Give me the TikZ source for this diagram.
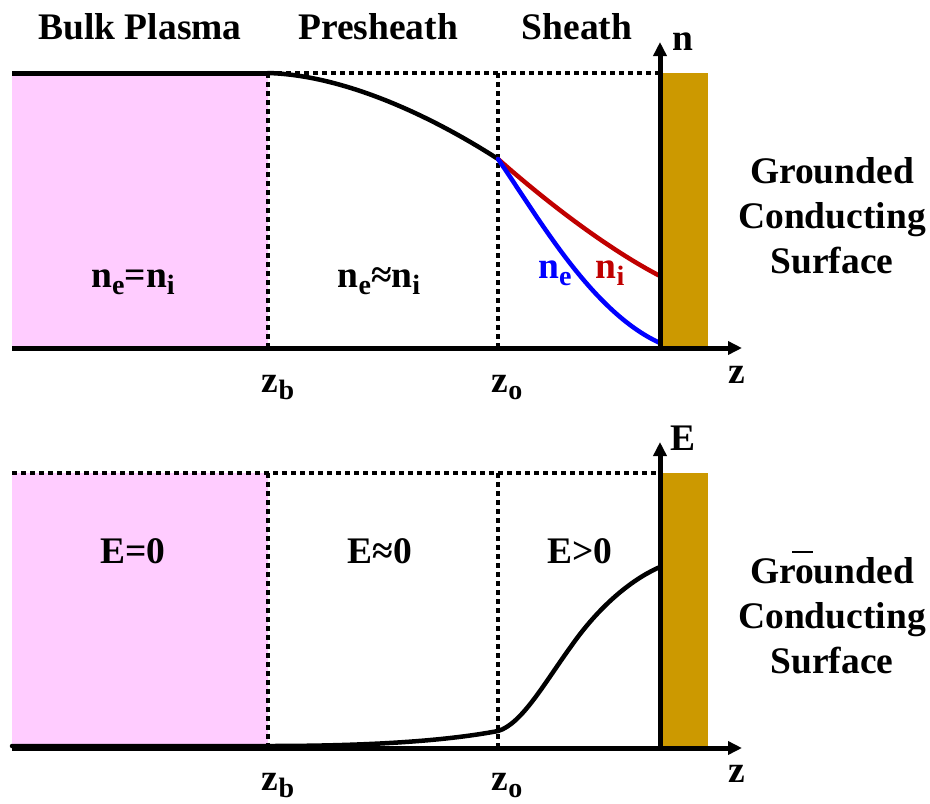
\documentclass[tikz,border=0pt]{standalone}
\usepackage{fontspec}
\setmainfont{Liberation Serif}
\usetikzlibrary{arrows.meta}
\definecolor{bulkpink}{HTML}{FFCCFF}
\definecolor{wallgold}{HTML}{CC9900}
\definecolor{ionred}{HTML}{C00000}
\definecolor{elblue}{HTML}{0000FF}
\newcommand\lsub[1]{\raisebox{-7pt}{\fontsize{28}{28}\selectfont #1}}
\tikzset{
  lbl/.style={inner sep=0pt, anchor=base, font=\fontsize{37.5}{45}\selectfont\bfseries},
  solidline/.style={line width=5pt},
  dotline/.style={line width=4.5pt, dash pattern=on 5pt off 4pt},
  curveline/.style={line width=4.5pt, line cap=round},
  axisline/.style={line width=5pt, -{Triangle[length=14pt,width=13pt]}},
  wall/.style={fill=wallgold},
  bulk/.style={fill=bulkpink},
}
\begin{document}
\begin{tikzpicture}[x=1pt,y=-1pt]
\useasboundingbox (0,0) rectangle (930,804);
% ---------------- top panel ----------------
\coordinate (TL) at (12,73);
\coordinate (TB) at (268,73);
\coordinate (TBb) at (268,348);
\coordinate (TO) at (498,159);
\coordinate (TOt) at (498,73);
\coordinate (TOb) at (498,348);
\coordinate (TW) at (660,73);
\coordinate (TOrig) at (660,348);
\coordinate (TAx0) at (12,348);
\coordinate (TAxZ) at (742,348);
\coordinate (TAxN) at (660,42);
\coordinate (TRi) at (660,276);
\coordinate (TRe) at (660,343);
\fill[bulk] (12,73) rectangle (268,348);
\fill[wall] (662,73) rectangle (708,348);
\draw[solidline] (TL) -- (TB);
\draw[dotline] (TB) -- (TW);
\draw[dotline] (TB) -- (TBb);
\draw[dotline] (TOt) -- (TOb);
\draw[curveline] (TB) .. controls (340,75) and (425,112) .. (TO);
\draw[curveline, ionred] (TO) .. controls (550,205) and (610,250) .. (TRi);
\draw[curveline, elblue] (TO) .. controls (540,220) and (592,312) .. (TRe);
\draw[axisline] (TAx0) -- (TAxZ);
\draw[axisline] (TOrig) -- (TAxN);
\node[lbl] (h1) at (140,39) {Bulk Plasma};
\node[lbl] (h2) at (378,39) {Presheath};
\node[lbl] (h3) at (577,39) {Sheath};
\node[lbl] (nax) at (683,50) {n};
\node[lbl] (zax1) at (737,383) {z};
\node[lbl] (zb1) at (278,392) {z\lsub{b}};
\node[lbl] (zo1) at (507,392) {z\lsub{o}};
\node[lbl] (eq1) at (133,287) {n\lsub{e}=n\lsub{i}};
\node[lbl] (ap1) at (379,287) {n\lsub{e}≈n\lsub{i}};
\node[lbl, text=elblue] (nel) at (555,278) {n\lsub{e}};
\node[lbl, text=ionred] (nil) at (610,278) {n\lsub{i}};
\node[lbl] (g1a) at (832,183) {Grounded};
\node[lbl] (g1b) at (832,228) {Conducting};
\node[lbl] (g1c) at (832,273) {Surface};
% ---------------- bottom panel ----------------
\coordinate (BL) at (12,473);
\coordinate (BB) at (268,473);
\coordinate (BBb) at (268,748);
\coordinate (BOt) at (498,473);
\coordinate (BOb) at (498,748);
\coordinate (BW) at (660,473);
\coordinate (BOrig) at (660,748);
\coordinate (BAx0) at (12,748);
\coordinate (BAxZ) at (742,748);
\coordinate (BAxE) at (660,442);
\coordinate (BC0) at (12,746);
\coordinate (BC1) at (268,746);
\coordinate (BC2) at (498,731);
\coordinate (BC3) at (572,645);
\coordinate (BC4) at (660,567);
\fill[bulk] (12,473) rectangle (268,748);
\fill[wall] (662,473) rectangle (708,748);
\draw[dotline] (BL) -- (BW);
\draw[dotline] (BB) -- (BBb);
\draw[dotline] (BOt) -- (BOb);
\draw[curveline] (BC0) -- (BC1) .. controls (380,746) and (450,740) .. (BC2)
  .. controls (522,724) and (545,682) .. (BC3)
  .. controls (598,608) and (630,580) .. (BC4);
\draw[axisline] (BAx0) -- (BAxZ);
\draw[axisline] (BOrig) -- (BAxE);
\node[lbl] (eax) at (683,450) {E};
\node[lbl] (zax2) at (737,782) {z};
\node[lbl] (zb2) at (278,790) {z\lsub{b}};
\node[lbl] (zo2) at (507,790) {z\lsub{o}};
\node[lbl] (e1) at (133,563) {E=0};
\node[lbl] (e2) at (380,563) {E≈0};
\node[lbl] (e3) at (580,563) {E>0};
\node[lbl] (g2a) at (832,583) {Grounded};
\node[lbl] (g2b) at (832,628) {Conducting};
\node[lbl] (g2c) at (832,673) {Surface};
\coordinate (stA) at (792,552);
\coordinate (stB) at (813,552);
\draw[line width=1.2pt] (stA) -- (stB);
\end{tikzpicture}
\end{document}
